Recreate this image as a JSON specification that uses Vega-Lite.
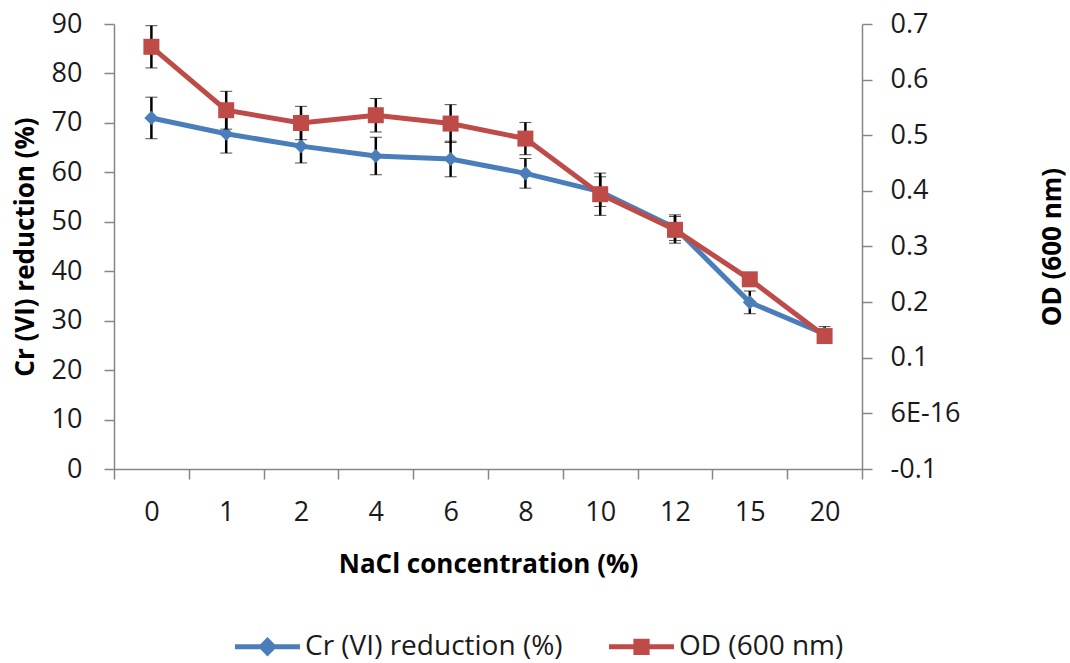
{
  "$schema": "https://vega.github.io/schema/vega-lite/v6.json",
  "width": 748,
  "height": 445,
  "autosize": {"type": "none"},
  "padding": {"left": 114, "top": 24, "right": 208, "bottom": 194},
  "background": "white",
  "config": {
    "view": {"stroke": null},
    "font": "Open Sans",
    "axis": {
      "grid": false,
      "domainColor": "#868686",
      "domainWidth": 1.5,
      "tickColor": "#868686",
      "tickWidth": 1.5,
      "tickSize": 10,
      "labelFont": "Open Sans",
      "labelFontSize": 27,
      "labelColor": "#1a1a1a",
      "titleFont": "Open Sans",
      "titleFontSize": 26,
      "titleFontWeight": "bold",
      "titleColor": "#000000"
    }
  },
  "data": {
    "values": [
      {"conc": "0", "cr": 71.0, "crErr": 4.2, "od": 0.659, "odErr": 0.038},
      {"conc": "1", "cr": 67.8, "crErr": 3.9, "od": 0.545, "odErr": 0.034},
      {"conc": "2", "cr": 65.3, "crErr": 3.4, "od": 0.522, "odErr": 0.030},
      {"conc": "4", "cr": 63.3, "crErr": 3.8, "od": 0.536, "odErr": 0.030},
      {"conc": "6", "cr": 62.7, "crErr": 3.6, "od": 0.521, "odErr": 0.034},
      {"conc": "8", "cr": 59.8, "crErr": 3.0, "od": 0.494, "odErr": 0.029},
      {"conc": "10", "cr": 56.1, "crErr": 3.0, "od": 0.394, "odErr": 0.038},
      {"conc": "12", "cr": 48.8, "crErr": 2.6, "od": 0.330, "odErr": 0.024},
      {"conc": "15", "cr": 33.7, "crErr": 2.3, "od": 0.241, "odErr": 0.010},
      {"conc": "20", "cr": 27.3, "crErr": 1.5, "od": 0.139, "odErr": 0.008}
    ]
  },
  "encoding": {
    "x": {
      "field": "conc",
      "type": "ordinal",
      "sort": ["0", "1", "2", "4", "6", "8", "10", "12", "15", "20"],
      "bandPosition": 0.5,
      "scale": {"type": "band", "paddingInner": 0, "paddingOuter": 0},
      "axis": {
        "title": "NaCl concentration (%)",
        "tickBand": "extent",
        "labelAngle": 0,
        "labelPadding": 20,
        "titlePadding": 26
      }
    }
  },
  "layer": [
    {
      "encoding": {
        "y": {
          "field": "cr",
          "type": "quantitative",
          "scale": {"domain": [0, 90], "nice": false, "zero": false},
          "axis": {
            "title": "Cr (VI) reduction (%)",
            "values": [0, 10, 20, 30, 40, 50, 60, 70, 80, 90],
            "labelPadding": 22,
            "titlePadding": 13
          }
        }
      },
      "layer": [
        {
          "mark": {
            "type": "errorbar",
            "ticks": {"size": 12, "color": "black", "strokeWidth": 3.5},
            "rule": {"color": "black", "strokeWidth": 2.5}
          },
          "encoding": {"yError": {"field": "crErr"}}
        },
        {
          "mark": {"type": "line", "strokeWidth": 5},
          "encoding": {
            "color": {
              "datum": "Cr (VI) reduction (%)",
              "type": "nominal",
              "scale": {"domain": ["Cr (VI) reduction (%)", "OD (600 nm)"], "range": ["#4A7EBB", "#BE4B48"]},
              "legend": {
                "title": null,
                "orient": "none",
                "direction": "horizontal",
                "legendX": 121,
                "legendY": 590,
                "padding": 0,
                "offset": 0,
                "symbolSize": 4225,
                "symbolStrokeWidth": 0,
                "labelFont": "Open Sans",
                "labelFontSize": 28,
                "labelLimit": 600,
                "labelColor": "#1a1a1a",
                "labelOffset": 5,
                "columnPadding": 46,
                "encode": {
                  "symbols": {
                    "update": {
                      "shape": {"signal": "datum.value == 'OD (600 nm)' ? 'M-1,-0.08L-0.25,-0.08L-0.25,-0.25L0.25,-0.25L0.25,-0.08L1,-0.08L1,0.08L0.25,0.08L0.25,0.25L-0.25,0.25L-0.25,0.08L-1,0.08Z' : 'M-1,-0.08L-0.22,-0.08L0,-0.3L0.22,-0.08L1,-0.08L1,0.08L0.22,0.08L0,0.3L-0.22,0.08L-1,0.08Z'"},
                      "fill": {"signal": "datum.value == 'OD (600 nm)' ? '#BE4B48' : '#4A7EBB'"},
                      "stroke": {"value": "transparent"},
                      "opacity": {"value": 1}
                    }
                  }
                }
              }
            }
          }
        },
        {
          "mark": {"type": "point", "shape": "diamond", "filled": true, "size": 200, "color": "#4A7EBB", "opacity": 1}
        }
      ]
    },
    {
      "encoding": {
        "y": {
          "field": "od",
          "type": "quantitative",
          "scale": {"domain": [-0.1, 0.7], "nice": false, "zero": false},
          "axis": {
            "orient": "right",
            "title": "OD (600 nm)",
            "values": [-0.1, 0, 0.1, 0.2, 0.3, 0.4, 0.5, 0.6, 0.7],
            "labelExpr": "abs(datum.value) < 1e-9 ? '6E-16' : toString(round(datum.value * 10) / 10)",
            "labelPadding": 18,
            "titleAngle": 270,
            "titleBaseline": "top",
            "titlePadding": 79
          }
        }
      },
      "layer": [
        {
          "mark": {
            "type": "errorbar",
            "ticks": {"size": 12, "color": "black", "strokeWidth": 3.5},
            "rule": {"color": "black", "strokeWidth": 2.5}
          },
          "encoding": {"yError": {"field": "odErr"}}
        },
        {
          "mark": {"type": "line", "strokeWidth": 5},
          "encoding": {
            "color": {"datum": "OD (600 nm)", "type": "nominal"}
          }
        },
        {
          "mark": {"type": "point", "shape": "square", "filled": true, "size": 256, "color": "#BE4B48", "opacity": 1}
        }
      ]
    }
  ],
  "resolve": {"scale": {"y": "independent"}}
}
